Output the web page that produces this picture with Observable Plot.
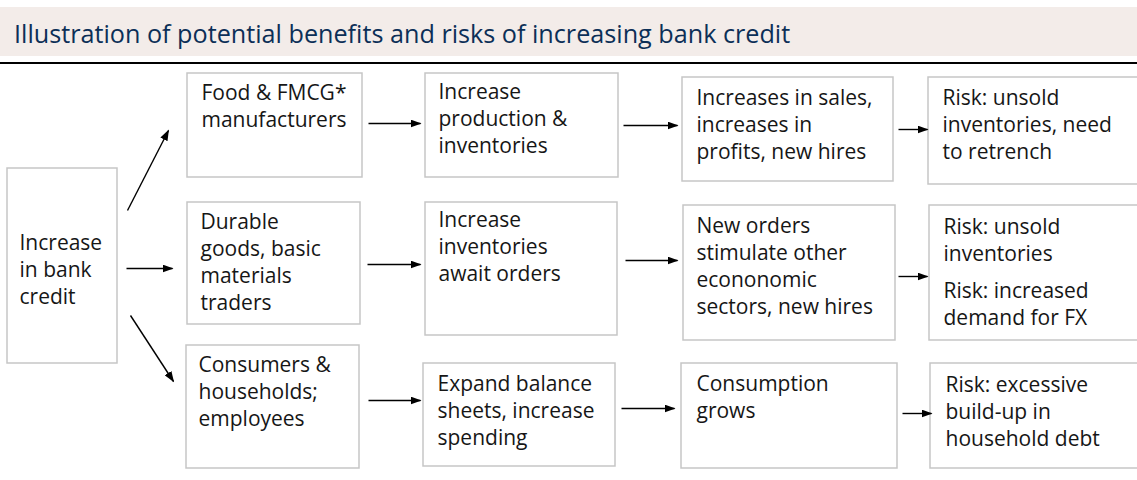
<!DOCTYPE html>
<html><head><meta charset="utf-8">
<script src="https://cdn.jsdelivr.net/npm/d3@7"></script>
<script src="https://cdn.jsdelivr.net/npm/@observablehq/plot@0.6"></script>
<style>
html,body{margin:0;padding:0;background:#fff;}
body{width:1137px;height:480px;position:relative;overflow:hidden;font-family:"Open Sans",sans-serif;}
#band{position:absolute;left:0;top:7px;width:1137px;height:49px;background:#f3ece9;}
#title{position:absolute;left:14px;top:2px;line-height:49px;font-size:25.2px;color:#0c2f57;white-space:nowrap;margin:0;font-weight:400;}
#rule{position:absolute;left:0;top:62px;width:1137px;height:2px;background:#000;}
#chart{position:absolute;left:0;top:65px;}
</style></head>
<body>
<div id="band"><h1 id="title">Illustration of potential benefits and risks of increasing bank credit</h1></div>
<div id="rule"></div>
<div id="chart"></div>
<script>
// ---- content ----
const nodeIds = ["credit","food","prod","sales","risk1","durable","inv","orders","risk2a","risk2b","cons","balance","consumption","risk3"];
const nodeLabels = [
  "Increase\nin bank\ncredit",
  "Food & FMCG*\nmanufacturers",
  "Increase\nproduction &\ninventories",
  "Increases in sales,\nincreases in\nprofits, new hires",
  "Risk: unsold\ninventories, need\nto retrench",
  "Durable\ngoods, basic\nmaterials\ntraders",
  "Increase\ninventories\nawait orders",
  "New orders\nstimulate other\necononomic\nsectors, new hires",
  "Risk: unsold\ninventories",
  "Risk: increased\ndemand for FX",
  "Consumers &\nhouseholds;\nemployees",
  "Expand balance\nsheets, increase\nspending",
  "Consumption\ngrows",
  "Risk: excessive\nbuild-up in\nhousehold debt"
];
const edgeFrom = ["credit","credit","credit","food","prod","sales","durable","inv","orders","cons","balance","consumption"];
const edgeTo   = ["food","durable","cons","prod","sales","risk1","inv","orders","risk2","balance","consumption","risk3"];

// ---- diagram layout (page coordinates) ----
const boxLayout = {
  credit:[7,117,168,363],
  food:[187,362,73,177], prod:[425,618,73,177], sales:[682,893,77,181], risk1:[928,1145,77,184],
  durable:[187,360,202,324], inv:[425,617,202,335], orders:[683,895,205,340], risk2:[929,1145,205,340],
  cons:[186,359,345,468], balance:[423,615,363,466], consumption:[681,897,363,468], risk3:[930,1145,363,468]
};
const textLayout = {
  credit:[19,242], food:[201,92], prod:[438,91], sales:[696,97], risk1:[942,97],
  durable:[200,221], inv:[438,219], orders:[696,225], risk2a:[943,226], risk2b:[943,290],
  cons:[198,364], balance:[437,383], consumption:[696,383], risk3:[945,384]
};
const edgeLayout = [
  [127,210,168,130],[126,268,172,268],[130,315,173,381],
  [368,123,420,123],[623,125,677,125],[898,129,927,129],
  [367,264,420,264],[625,260,677,260],[898,276,927,276],
  [368,400,420,400],[621,408,674,408],[902,413,931,413]
];

const boxes = Object.entries(boxLayout).map(([id,[x1,x2,y1,y2]]) => ({id,x1,x2,y1,y2}));
const texts = nodeIds.map((id,i) => ({id, label: nodeLabels[i], x: textLayout[id][0], y: textLayout[id][1]}));
const edges = edgeFrom.map((f,i) => ({from:f, to:edgeTo[i], x1:edgeLayout[i][0], y1:edgeLayout[i][1], x2:edgeLayout[i][2], y2:edgeLayout[i][3]}));

const fs = 21, lh = 27.3/21;

function filledArrow(color) {
  const ns = "http://www.w3.org/2000/svg";
  const m = document.createElementNS(ns, "marker");
  m.setAttribute("viewBox", "0 -4 11 8");
  m.setAttribute("refX", "10");
  m.setAttribute("refY", "0");
  m.setAttribute("markerWidth", "11");
  m.setAttribute("markerHeight", "8");
  m.setAttribute("markerUnits", "userSpaceOnUse");
  m.setAttribute("orient", "auto");
  const p = document.createElementNS(ns, "path");
  p.setAttribute("d", "M0,-4L11,0L0,4Z");
  p.setAttribute("fill", color);
  p.setAttribute("stroke", "none");
  m.appendChild(p);
  return m;
}

const chart = Plot.plot({
  width: 1137, height: 415,
  marginTop: 0, marginRight: 0, marginBottom: 0, marginLeft: 0,
  x: {domain: [0, 1137], range: [0, 1137], axis: null},
  y: {domain: [65, 480], range: [0, 415], axis: null},
  style: {fontFamily: '"Open Sans", sans-serif', fontSize: fs + "px", background: "white", overflow: "visible"},
  marks: [
    Plot.rect(boxes, {x1:"x1", x2:"x2", y1:"y1", y2:"y2", fill:"white", stroke:"#c6c6c6", strokeWidth:1.5}),
    Plot.link(edges, {x1:"x1", y1:"y1", x2:"x2", y2:"y2", stroke:"#000", strokeWidth:1.4, markerEnd: filledArrow}),
    Plot.text(texts, {x:"x", y:"y", text:"label", textAnchor:"start", lineAnchor:"top", lineHeight: lh, dy: 7 - 0.71*lh*fs, fill:"#161616", fontSize: fs})
  ]
});
document.getElementById("chart").appendChild(chart);
</script>
</body></html>
